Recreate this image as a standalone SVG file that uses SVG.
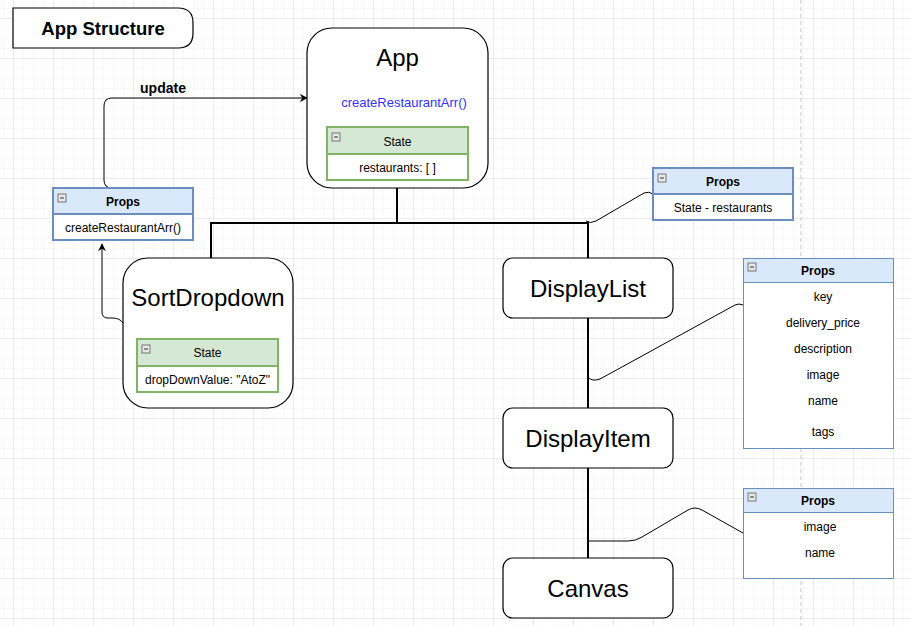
<svg xmlns="http://www.w3.org/2000/svg" width="911" height="626" viewBox="0 0 911 626">
<style>
text{font-family:"Liberation Sans",Arial,sans-serif;fill:#000}
.big{font-size:24px;text-anchor:middle}
.sm{font-size:12px;text-anchor:middle}
.hd{font-size:12px;font-weight:bold;text-anchor:middle}
.node{fill:#fff;stroke:#000;stroke-width:1.2}
.pb{fill:#fff;stroke:#6c8ebf}
.ph{fill:#dae8fc;stroke:#6c8ebf}
.sb{fill:#fff;stroke:#82b366;stroke-width:2}
.sh{fill:#d5e8d4;stroke:#82b366;stroke-width:2}
.tree{fill:none;stroke:#000;stroke-width:2}
.thin{fill:none;stroke:#000;stroke-width:1}
</style>
<defs>
<pattern id="minor" x="3" y="8" width="10" height="10" patternUnits="userSpaceOnUse">
<path d="M0,0 H10 M0,0 V10" fill="none" stroke="#f3f3f3" stroke-width="1"/>
</pattern>
<pattern id="major" x="13" y="18" width="40" height="40" patternUnits="userSpaceOnUse">
<path d="M0,0 H40 M0,0 V40" fill="none" stroke="#e0e0e0" stroke-width="1"/>
</pattern>
<marker id="arr" viewBox="0 0 10 10" refX="9" refY="5" markerWidth="8" markerHeight="8" markerUnits="userSpaceOnUse" orient="auto">
<path d="M0,0 L10,5 L0,10 L3,5 Z" fill="#000"/>
</marker>
<g id="minus">
<rect x="0" y="0" width="8" height="8" fill="#e8e8e8" stroke="#777" stroke-width="1"/>
<path d="M2,4 H6" stroke="#333" stroke-width="1"/>
</g>
</defs>
<rect width="911" height="626" fill="#fff"/>
<rect width="911" height="626" fill="url(#minor)"/>
<rect width="911" height="626" fill="url(#major)"/>
<line x1="801" y1="0" x2="801" y2="626" stroke="#c4c4c4" stroke-dasharray="4 3"/>

<g id="connectors">
<path class="tree" d="M397,188 V223 M211,223 H588 M211,222 V258 M588,222 V258"/>
<path class="tree" d="M588,318 V408 M588,468 V558"/>
<path class="thin" d="M586,221 Q590,224 596,221 L644,193 Q649,191 653,194"/>
<path class="thin" d="M588,377 Q592,382 600,379 L735,305 Q739,303 743,305"/>
<path class="thin" d="M588,541 L628,541 Q636,541 642,537 L688,510 Q695,506 702,510 L743,533"/>
<path class="thin" stroke-width="1.2" d="M123,188 L112,188 Q104,188 104,180 L104,106 Q104,98 112,98 L307,98" marker-end="url(#arr)"/>
<path class="thin" stroke-width="1.2" d="M123,323 Q120,318 112,318 L108,318 Q102,318 102,312 L102,244" marker-end="url(#arr)"/>
<text x="163" y="93" style="font-size:14px;font-weight:bold;text-anchor:middle">update</text>
</g>

<g id="title">
<path class="node" d="M13,8 H178 Q193,8 193,23 V33 Q193,48 178,48 H13 Z"/>
<text x="103" y="34.5" style="font-size:18.5px;font-weight:bold;text-anchor:middle">App Structure</text>
</g>

<g id="app">
<rect class="node" x="307" y="28" width="181" height="160" rx="25"/>
<text class="big" x="397.5" y="66">App</text>
<text x="404" y="107" style="font-size:13px;text-anchor:middle;fill:#3333ff">createRestaurantArr()</text>
<rect class="sb" x="327" y="127" width="141" height="53"/>
<rect class="sh" x="327" y="127" width="141" height="27"/>
<use href="#minus" x="332" y="133"/>
<text class="sm" x="397.5" y="146">State</text>
<text class="sm" x="397.5" y="171.5">restaurants: [ ]</text>
</g>

<g id="props-app">
<rect class="pb" stroke-width="2" x="53" y="188" width="140" height="52"/>
<rect class="ph" stroke-width="2" x="53" y="188" width="140" height="26"/>
<use href="#minus" x="58" y="194"/>
<text class="hd" x="123" y="205.5">Props</text>
<text class="sm" x="123" y="231.5">createRestaurantArr()</text>
</g>

<g id="sortdropdown">
<rect class="node" x="123" y="258" width="170" height="150" rx="25"/>
<text class="big" x="208" y="306">SortDropdown</text>
<rect class="sb" x="137" y="339" width="141" height="53"/>
<rect class="sh" x="137" y="339" width="141" height="27"/>
<use href="#minus" x="142" y="345"/>
<text class="sm" x="207.5" y="357">State</text>
<text class="sm" x="207.5" y="383.5">dropDownValue: "AtoZ"</text>
</g>

<g id="props-list">
<rect class="pb" stroke-width="2" x="653" y="168" width="140" height="52"/>
<rect class="ph" stroke-width="2" x="653" y="168" width="140" height="26"/>
<use href="#minus" x="658" y="174"/>
<text class="hd" x="723" y="186">Props</text>
<text class="sm" x="723" y="212">State - restaurants</text>
</g>

<g id="displaylist">
<rect class="node" x="503" y="258" width="170" height="60" rx="10"/>
<text class="big" x="588" y="297">DisplayList</text>
</g>

<g id="displayitem">
<rect class="node" x="503" y="408" width="170" height="60" rx="10"/>
<text class="big" x="588" y="447">DisplayItem</text>
</g>

<g id="canvas">
<rect class="node" x="503" y="558" width="170" height="60" rx="10"/>
<text class="big" x="588" y="597">Canvas</text>
</g>

<g id="props-item">
<rect class="pb" x="743.5" y="258.5" width="150" height="190"/>
<rect class="ph" x="743.5" y="258.5" width="150" height="24"/>
<use href="#minus" x="748" y="263"/>
<text class="hd" x="818" y="275">Props</text>
<text class="sm" x="823" y="301">key</text>
<text class="sm" x="823" y="327">delivery_price</text>
<text class="sm" x="823" y="353">description</text>
<text class="sm" x="823" y="379">image</text>
<text class="sm" x="823" y="405">name</text>
<text class="sm" x="823" y="436">tags</text>
</g>

<g id="props-canvas">
<rect class="pb" x="743.5" y="488.5" width="150" height="90"/>
<rect class="ph" x="743.5" y="488.5" width="150" height="24"/>
<use href="#minus" x="748" y="493"/>
<text class="hd" x="818" y="505">Props</text>
<text class="sm" x="820" y="531">image</text>
<text class="sm" x="820" y="557">name</text>
</g>
</svg>
